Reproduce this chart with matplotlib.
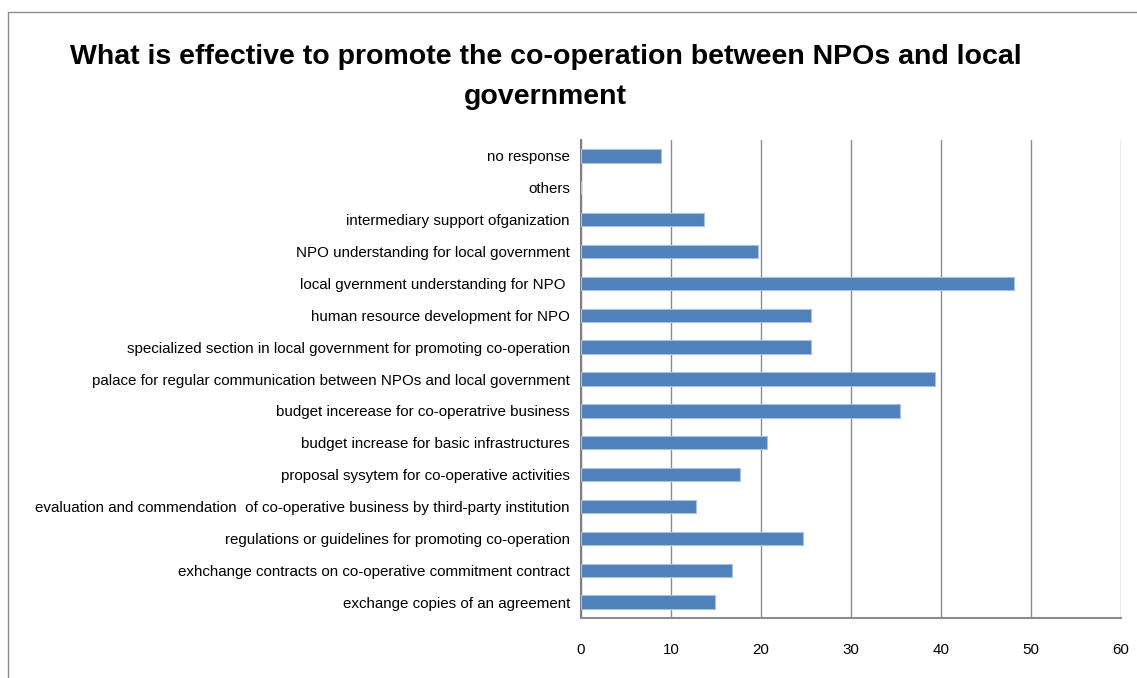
import matplotlib.pyplot as plt
from matplotlib.patches import Rectangle

plt.rcParams['font.family'] = ['Liberation Sans Narrow', 'Liberation Sans', 'DejaVu Sans']

# categories listed bottom to top, as drawn
categories = [
    "exchange copies of an agreement",
    "exhchange contracts on co-operative commitment contract",
    "regulations or guidelines for promoting co-operation",
    "evaluation and commendation  of co-operative business by third-party institution",
    "proposal sysytem for co-operative activities",
    "budget increase for basic infrastructures",
    "budget incerease for co-operatrive business",
    "palace for regular communication between NPOs and local government",
    "specialized section in local government for promoting co-operation",
    "human resource development for NPO",
    "local gvernment understanding for NPO ",
    "NPO understanding for local government",
    "intermediary support ofganization",
    "others",
    "no response",
]
values = [14.9, 16.8, 24.7, 12.8, 17.7, 20.7, 35.4, 39.3, 25.6, 25.6, 48.1, 19.7, 13.7, 0, 8.9]
xticks = [0, 10, 20, 30, 40, 50, 60]

fig = plt.figure(figsize=(11.37, 6.78), dpi=100)
fig.patches.append(Rectangle((8 / 1137, -0.1), 1.2, 1.1 - 12 / 678, transform=fig.transFigure,
                             fill=False, edgecolor='#8c8c8c', linewidth=1))

ax = fig.add_axes([581 / 1137, 1 - 618 / 678, 540 / 1137, 478 / 678])
ax.barh(range(len(categories)), values, height=0.42, color='#4F81BD',
        edgecolor='#a9c0de', linewidth=0.8, zorder=3)
ax.set_xlim(0, 60)
ax.set_ylim(-0.5, len(categories) - 0.5)
ax.set_xticks(xticks)
ax.set_yticks(range(len(categories)))
ax.set_yticklabels(categories, fontsize=10.9)
ax.tick_params(axis='both', length=0, colors='#000000')
ax.tick_params(axis='x', pad=18, labelsize=10.9)
ax.tick_params(axis='y', pad=8)
ax.grid(axis='x', color='#8c8c8c', linewidth=1, zorder=0)
for s in ['top', 'right']:
    ax.spines[s].set_visible(False)
ax.spines['left'].set_color('#808080')
ax.spines['left'].set_linewidth(1.5)
ax.spines['bottom'].set_color('#8c8c8c')
ax.spines['bottom'].set_linewidth(1.5)

fig.text(0.48, 1 - 77 / 678,
         "What is effective to promote the co-operation between NPOs and local\ngovernment",
         ha='center', va='center', fontsize=20.5, fontweight='bold', linespacing=1.65)

fig.savefig("out.png", dpi=100)
